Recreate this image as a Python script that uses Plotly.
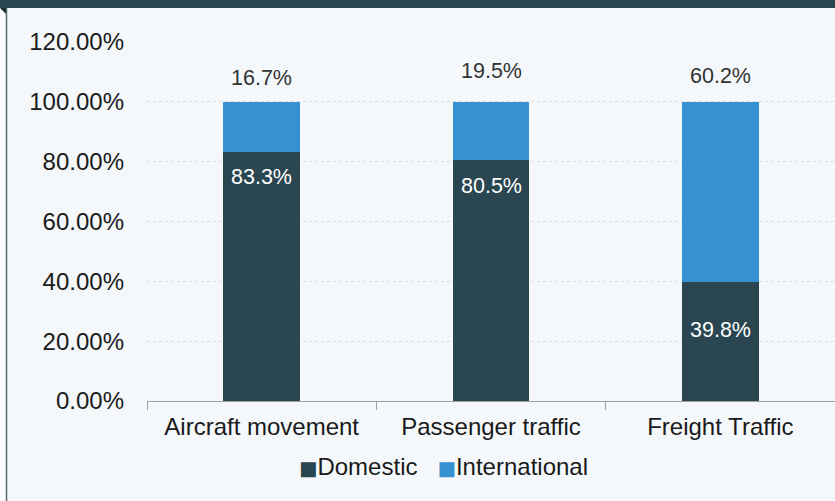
import plotly.graph_objects as go

categories = ["Aircraft movement", "Passenger traffic", "Freight Traffic"]
domestic = [83.3, 80.5, 39.8]
international = [16.7, 19.5, 60.2]
dom_labels = ["83.3%", "80.5%", "39.8%"]
int_labels = ["16.7%", "19.5%", "60.2%"]
series_names = ["Domestic", "International"]
y_ticks = [0, 20, 40, 60, 80, 100, 120]
y_ticklabels = ["0.00%", "20.00%", "40.00%", "60.00%", "80.00%", "100.00%", "120.00%"]

# label pixel offsets (styling)
int_shift = [24, 31, 26]
dom_shift = [-25, -26, -48]

W, H = 835, 501
L, R, T, B = 147, 0, 42, 100
pw, ph = W - L - R, H - T - B

def px_x(x):
    return (x - L) / pw

def px_y(y):
    return (H - B - y) / ph

DOM = "#2a4650"
INT = "#3591d1"
FONT = "Liberation Sans, Arial, sans-serif"
colors = [DOM, INT]

fig = go.Figure()
fig.add_trace(go.Bar(x=categories, y=domestic, name=series_names[0], marker=dict(color=DOM, line=dict(width=0)), width=0.335))
fig.add_trace(go.Bar(x=categories, y=international, name=series_names[1], marker=dict(color=INT, line=dict(width=0)), width=0.335))

for i, c in enumerate(categories):
    total = domestic[i] + international[i]
    fig.add_annotation(x=c, y=total, text=int_labels[i], showarrow=False, yshift=int_shift[i],
                       font=dict(family=FONT, size=21.5, color="#333333"))
    fig.add_annotation(x=c, y=domestic[i], text=dom_labels[i], showarrow=False, yshift=dom_shift[i],
                       font=dict(family=FONT, size=21.5, color="#ffffff"))

# custom legend (tight symbol/text spacing)
legend_text = "".join(
    f"<span style='color:{col};font-family:DejaVu Sans;font-size:19.5px'>■</span>{name}" + ("   " if k == 0 else "")
    for k, (name, col) in enumerate(zip(series_names, colors))
)
fig.add_annotation(xref="paper", yref="paper", x=px_x(443), y=px_y(466), xanchor="center", yanchor="middle",
                   text=legend_text, showarrow=False, font=dict(family=FONT, size=24, color="#1a1a1a"))

# decorative frame
fig.add_shape(type="rect", xref="paper", yref="paper", x0=px_x(0), x1=px_x(W), y0=px_y(8), y1=px_y(0),
              fillcolor=DOM, line=dict(width=0), layer="below")
fig.add_shape(type="rect", xref="paper", yref="paper", x0=px_x(0), x1=px_x(6), y0=px_y(H), y1=px_y(8),
              fillcolor="#fbfcfd", line=dict(width=0), layer="below")
fig.add_shape(type="line", xref="paper", yref="paper", x0=px_x(6.5), x1=px_x(6.5), y0=px_y(H), y1=px_y(8),
              line=dict(color="#5a6a70", width=1.5), layer="below")
fig.add_shape(type="path", xref="paper", yref="paper",
              path=f"M {px_x(0)},{px_y(8)} L {px_x(6)},{px_y(8)} L {px_x(6)},{px_y(14)} Z",
              fillcolor="#1e2e34", line=dict(width=0), layer="below")

fig.update_layout(
    width=W, height=H,
    margin=dict(l=L, r=R, t=T, b=B, pad=0),
    paper_bgcolor="#f5f8fa", plot_bgcolor="#f5f8fa",
    barmode="stack", bargap=0.665,
    font=dict(family=FONT, size=24, color="#1a1a1a"),
    showlegend=False,
    xaxis=dict(showgrid=False, showline=True, linecolor="#a0a0a0", linewidth=1,
               ticks="outside", ticklen=8, tickcolor="#a0a0a0", tickson="boundaries",
               ticklabelstandoff=4,
               tickfont=dict(family=FONT, size=24, color="#1a1a1a"), fixedrange=True),
    yaxis=dict(range=[0, 120], tickvals=y_ticks, ticktext=y_ticklabels, showgrid=True,
               gridcolor="#d9dde0", griddash="dot", gridwidth=1, zeroline=False, showline=False,
               ticks="", ticklabelstandoff=22,
               tickfont=dict(family=FONT, size=24, color="#1a1a1a"), fixedrange=True),
)

fig.write_html("out.html", config={"displayModeBar": False},
               post_script="document.body.style.margin='0';document.body.style.padding='0';")
